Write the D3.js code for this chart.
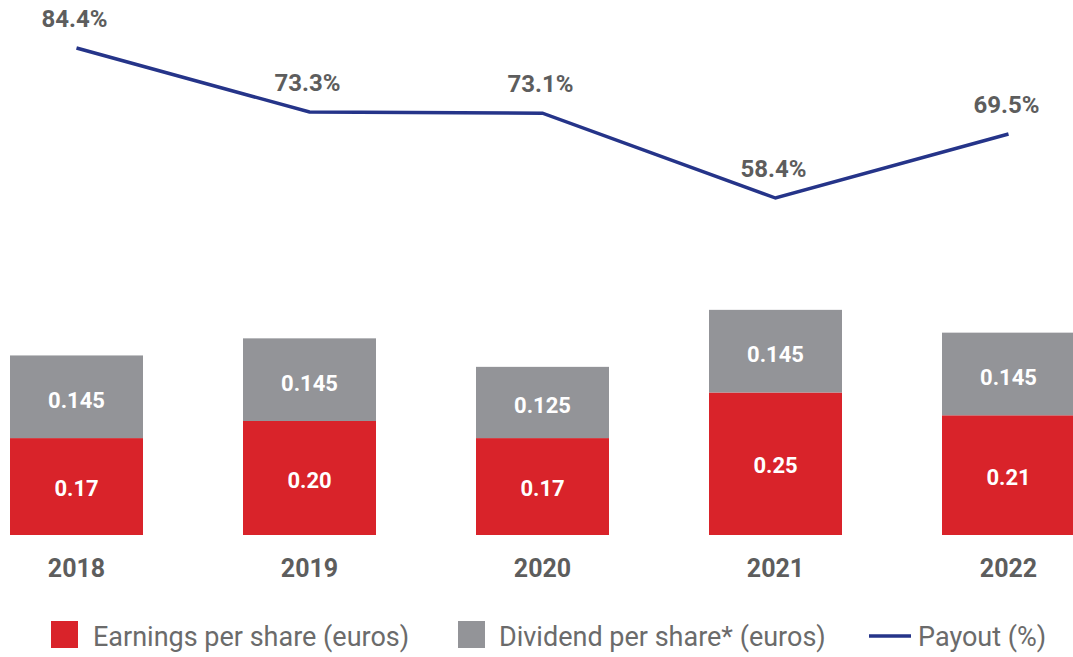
<!DOCTYPE html>
<html>
<head>
<meta charset="utf-8">
<script src="https://cdn.jsdelivr.net/npm/d3@7"></script>
<style>
  body { margin: 0; background: #fff; }
  text { font-family: Roboto, "Noto Sans", sans-serif; }
</style>
</head>
<body>
<div id="chart"></div>
<script>
// data
var years = ["2018", "2019", "2020", "2021", "2022"];
var earnings = [0.17, 0.20, 0.17, 0.25, 0.21];
var earningsLabels = ["0.17", "0.20", "0.17", "0.25", "0.21"];
var dividends = [0.145, 0.145, 0.125, 0.145, 0.145];
var dividendLabels = ["0.145", "0.145", "0.125", "0.145", "0.145"];
var payout = [84.4, 73.3, 73.1, 58.4, 69.5];

var width = 1073, height = 657;
var red = "#d9232a", grey = "#939498", blue = "#253489", txt = "#5d5d5d";

var svg = d3.select("#chart")
  .append("svg")
  .attr("width", width)
  .attr("height", height);

var baseY = 535;

// x scale: bars of 133px every 233px, first starting at x=10
var x = d3.scaleBand()
  .domain(years)
  .range([-40, 1125])
  .paddingInner(100 / 233)
  .paddingOuter(50 / 233);

// y for bars (euros)
var y = d3.scaleLinear()
  .domain([0, 1])
  .range([baseY, baseY - 570]);

// y for payout line (%)
var yp = d3.scaleLinear()
  .domain([0, 100])
  .range([baseY, baseY - 577]);

var rows = years.map(function(yr, i) {
  return { year: yr, eps: earnings[i], dps: dividends[i],
           epsLabel: earningsLabels[i], dpsLabel: dividendLabels[i], payout: payout[i] };
});

// red (earnings) bars
svg.selectAll(".eps")
  .data(rows)
  .enter()
  .append("rect")
  .attr("x", function(d) { return x(d.year); })
  .attr("y", function(d) { return y(d.eps); })
  .attr("width", x.bandwidth())
  .attr("height", function(d) { return baseY - y(d.eps); })
  .attr("fill", red);

// grey (dividend) bars stacked on top
svg.selectAll(".dps")
  .data(rows)
  .enter()
  .append("rect")
  .attr("x", function(d) { return x(d.year); })
  .attr("y", function(d) { return y(d.eps + d.dps); })
  .attr("width", x.bandwidth())
  .attr("height", function(d) { return y(d.eps) - y(d.eps + d.dps); })
  .attr("fill", grey);

// value labels inside bars
svg.selectAll(".epsLabel")
  .data(rows)
  .enter()
  .append("text")
  .attr("x", function(d) { return x(d.year) + x.bandwidth() / 2; })
  .attr("y", function(d) { return (baseY + y(d.eps)) / 2 + 9.5; })
  .attr("text-anchor", "middle")
  .attr("font-size", "22px")
  .attr("font-weight", "bold")
  .attr("fill", "#fff")
  .text(function(d) { return d.epsLabel; });

svg.selectAll(".dpsLabel")
  .data(rows)
  .enter()
  .append("text")
  .attr("x", function(d) { return x(d.year) + x.bandwidth() / 2; })
  .attr("y", function(d) { return (y(d.eps) + y(d.eps + d.dps)) / 2 + 11; })
  .attr("text-anchor", "middle")
  .attr("font-size", "22px")
  .attr("font-weight", "bold")
  .attr("fill", "#fff")
  .text(function(d) { return d.dpsLabel; });

// year labels
svg.selectAll(".year")
  .data(rows)
  .enter()
  .append("text")
  .attr("x", function(d) { return x(d.year) + x.bandwidth() / 2; })
  .attr("y", 577)
  .attr("text-anchor", "middle")
  .attr("font-size", "25px")
  .attr("font-weight", "bold")
  .attr("fill", txt)
  .text(function(d) { return d.year; });

// payout line
var line = d3.line()
  .x(function(d) { return x(d.year) + x.bandwidth() / 2; })
  .y(function(d) { return yp(d.payout); });

svg.append("path")
  .datum(rows)
  .attr("d", line)
  .attr("fill", "none")
  .attr("stroke", blue)
  .attr("stroke-width", 3.5);

svg.selectAll(".pct")
  .data(rows)
  .enter()
  .append("text")
  .attr("x", function(d) { return x(d.year) + x.bandwidth() / 2 - 2; })
  .attr("y", function(d) { return yp(d.payout) - 21; })
  .attr("text-anchor", "middle")
  .attr("font-size", "24px")
  .attr("font-weight", "bold")
  .attr("fill", txt)
  .text(function(d) { return d.payout.toFixed(1) + "%"; });

// legend
var legend = svg.append("g");
legend.append("rect").attr("x", 51).attr("y", 621).attr("width", 27).attr("height", 27).attr("fill", red);
legend.append("text").attr("x", 93).attr("y", 646).attr("font-size", "27px").attr("fill", "#6b6b6b")
  .text("Earnings per share (euros)");
legend.append("rect").attr("x", 458).attr("y", 621).attr("width", 27).attr("height", 27).attr("fill", grey);
legend.append("text").attr("x", 499).attr("y", 646).attr("font-size", "27px").attr("fill", "#6b6b6b")
  .text("Dividend per share* (euros)");
legend.append("line").attr("x1", 869).attr("x2", 911).attr("y1", 636).attr("y2", 636)
  .attr("stroke", blue).attr("stroke-width", 3.5);
legend.append("text").attr("x", 918).attr("y", 646).attr("font-size", "27px").attr("fill", "#6b6b6b")
  .text("Payout (%)");
</script>
</body>
</html>
